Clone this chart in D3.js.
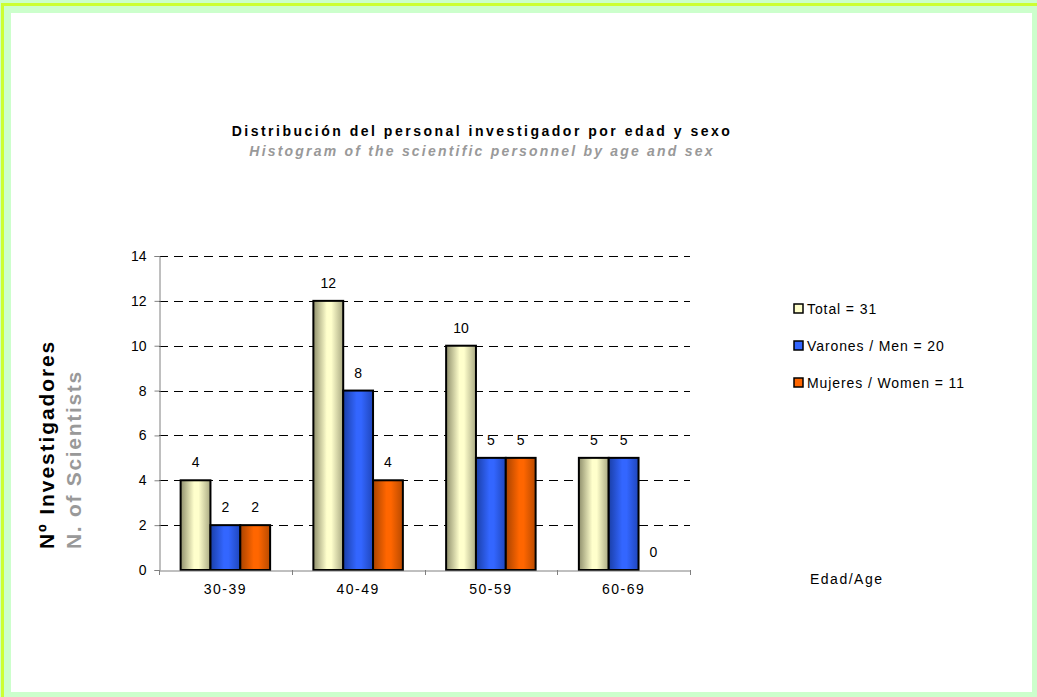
<!DOCTYPE html>
<html>
<head>
<meta charset="utf-8">
<script src="https://cdn.jsdelivr.net/npm/d3@7"></script>
<style>
html,body{margin:0;padding:0;background:#fff;}
svg{display:block;font-family:"Liberation Sans",Arial,sans-serif;}
</style>
</head>
<body>
<svg id="chart" width="1037" height="697"></svg>
<script>
const categories = ["30-39", "40-49", "50-59", "60-69"];
const seriesNames = ["Total = 31", "Varones / Men = 20", "Mujeres / Women = 11"];
const totalValues = [4, 12, 10, 5];
const menValues = [2, 8, 5, 5];
const womenValues = [2, 4, 5, 0];
const yTicks = [0, 2, 4, 6, 8, 10, 12, 14];

(function () {
const seriesValues = [totalValues, menValues, womenValues];
const svg = d3.select("#chart");

// frame
svg.append("rect").attr("x", 0).attr("y", 0).attr("width", 1037).attr("height", 697).attr("fill", "#ccffcc");
svg.append("rect").attr("x", 1).attr("y", 3).attr("width", 1036).attr("height", 3).attr("fill", "#ccff33");
svg.append("rect").attr("x", 1).attr("y", 3).attr("width", 3).attr("height", 694).attr("fill", "#ccff33");
svg.append("rect").attr("x", 11).attr("y", 13).attr("width", 1021).attr("height", 679).attr("fill", "#ffffff");

// gradients
const defs = svg.append("defs");
const grads = [
  ["g0", "#8f8f6c", "#ffffcc", "#a9a982"],
  ["g1", "#1a3fa8", "#3366ff", "#1f46bb"],
  ["g2", "#a84300", "#ff6600", "#b84a00"]
];
grads.forEach(([id, a, b, c]) => {
  const g = defs.append("linearGradient").attr("id", id).attr("x1", "0%").attr("x2", "100%").attr("y1", "0%").attr("y2", "0%");
  g.append("stop").attr("offset", "0%").attr("stop-color", a);
  g.append("stop").attr("offset", "45%").attr("stop-color", b);
  g.append("stop").attr("offset", "60%").attr("stop-color", b);
  g.append("stop").attr("offset", "100%").attr("stop-color", c);
});
const fills = ["url(#g0)", "url(#g1)", "url(#g2)"];
const legendFills = ["#ffffcc", "#3366ff", "#ff6600"];

const pLeft = 159, pRight = 690, pTop = 256, pBottom = 570;
const y = d3.scaleLinear().domain([0, 14]).range([pBottom, pTop]);
const x0 = d3.scaleBand().domain(categories).range([pLeft, pRight]).padding(0);
const bw = x0.bandwidth();
const gap = bw * 1.45 / 4.45;
const x1 = d3.scaleBand().domain(d3.range(3)).range([gap / 2, bw - gap / 2]).padding(0);

// gridlines
svg.append("g").selectAll("line").data(yTicks.filter(d => d > 0)).join("line")
  .attr("x1", pLeft).attr("x2", pRight)
  .attr("y1", d => Math.round(y(d)) + 0.5).attr("y2", d => Math.round(y(d)) + 0.5)
  .attr("stroke", "#000").attr("stroke-width", 1).attr("stroke-dasharray", "9,6");

// y axis
const yAxis = d3.axisLeft(y).tickValues(yTicks).tickSize(5).tickPadding(8);
const yg = svg.append("g").attr("transform", `translate(${pLeft + 0.5},0)`).call(yAxis);
yg.select(".domain").attr("stroke", "#808080");
yg.selectAll(".tick line").attr("stroke", "#808080");
yg.selectAll(".tick text").attr("font-size", 14).attr("fill", "#000").attr("font-family", "Liberation Sans, Arial, sans-serif");

// bars
const groups = svg.append("g").selectAll("g").data(categories).join("g")
  .attr("transform", d => `translate(${x0(d)},0)`);
groups.each(function(cat, ci) {
  const g = d3.select(this);
  seriesValues.forEach((vals, si) => {
    const v = vals[ci];
    if (v > 0) {
      g.append("rect")
        .attr("x", x1(si)).attr("y", y(v))
        .attr("width", x1.bandwidth()).attr("height", y(0) - y(v))
        .attr("fill", fills[si]).attr("stroke", "#000").attr("stroke-width", 2);
    }
    g.append("text")
      .attr("x", x1(si) + x1.bandwidth() / 2).attr("y", y(v) - 13)
      .attr("text-anchor", "middle").attr("font-size", 14).attr("fill", "#000")
      .text(v);
  });
});

// x axis
const xAxis = d3.axisBottom(x0).tickSize(0).tickPadding(14);
const xg = svg.append("g").attr("transform", `translate(0,${pBottom + 0.5})`).call(xAxis);
xg.select(".domain").attr("stroke", "#808080");
xg.selectAll(".tick text").attr("font-size", 14).attr("letter-spacing", 1.5).attr("fill", "#000").attr("font-family", "Liberation Sans, Arial, sans-serif");
svg.append("g").selectAll("line").data(categories.concat(["end"])).join("line")
  .attr("x1", (d, i) => Math.round(pLeft + i * bw) + 0.5).attr("x2", (d, i) => Math.round(pLeft + i * bw) + 0.5)
  .attr("y1", pBottom).attr("y2", pBottom + 5).attr("stroke", "#808080");

// titles
svg.append("text").attr("x", 482).attr("y", 136).attr("text-anchor", "middle")
  .attr("font-size", 14).attr("font-weight", "bold").attr("letter-spacing", 2.5).attr("fill", "#000")
  .text("Distribución del personal investigador por edad y sexo");
svg.append("text").attr("x", 482).attr("y", 156).attr("text-anchor", "middle")
  .attr("font-size", 14).attr("font-weight", "bold").attr("font-style", "italic").attr("letter-spacing", 2.2).attr("fill", "#999999")
  .text("Histogram of the scientific personnel by age and sex");

// y title
svg.append("text").attr("transform", "translate(54,549) rotate(-90)")
  .attr("font-size", 21).attr("font-weight", "bold").attr("letter-spacing", 1.9).attr("fill", "#000").text("Nº Investigadores");
svg.append("text").attr("transform", "translate(81,549) rotate(-90)")
  .attr("font-size", 21).attr("font-weight", "bold").attr("letter-spacing", 1.7).attr("fill", "#999999").text("N. of Scientists");

// x title
svg.append("text").attr("x", 810).attr("y", 584).attr("font-size", 14).attr("letter-spacing", 1.5).attr("fill", "#000").text("Edad/Age");

// legend
const lg = svg.append("g").selectAll("g").data(seriesNames).join("g")
  .attr("transform", (d, i) => `translate(794,${309 + i * 37})`);
lg.append("rect").attr("x", 0).attr("y", -5).attr("width", 9).attr("height", 9)
  .attr("fill", (d, i) => legendFills[i]).attr("stroke", "#000").attr("stroke-width", 1.5);
lg.append("text").attr("x", 13).attr("y", 5).attr("font-size", 14).attr("letter-spacing", 0.9).attr("fill", "#000").text(d => d);
})();
</script>
</body>
</html>
